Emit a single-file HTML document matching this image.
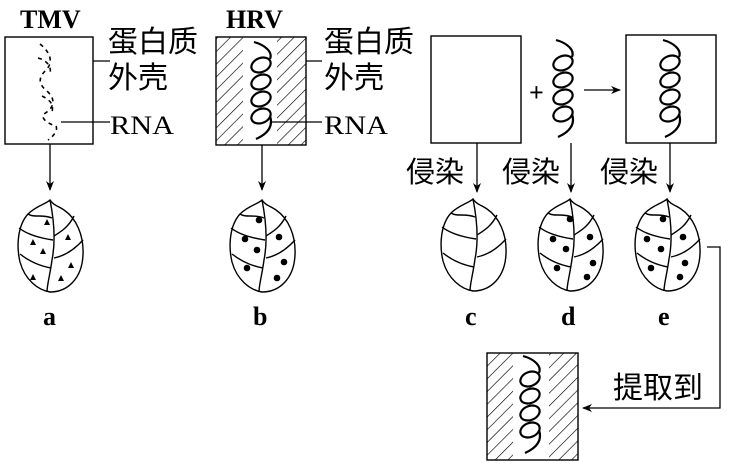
<!DOCTYPE html>
<html><head><meta charset="utf-8"><style>
body{margin:0;background:#fff;}
svg{display:block}
text{font-family:"Liberation Serif","Noto Serif CJK SC",serif;fill:#000}
.cj{font-family:"Liberation Sans","Noto Sans CJK SC",sans-serif;font-size:30px}
</style></head><body>
<svg width="738" height="463" viewBox="0 0 738 463" xmlns="http://www.w3.org/2000/svg">
<defs>
<pattern id="h" width="9" height="9" patternUnits="userSpaceOnUse" patternTransform="rotate(45)">
<line x1="0" y1="0" x2="0" y2="9" stroke="#000" stroke-width="1.3"/></pattern>
<marker id="ar" markerWidth="10" markerHeight="10" refX="9" refY="5" orient="auto" markerUnits="userSpaceOnUse">
<path d="M0,1 L10,5 L0,9 L3,5 Z" fill="#000"/></marker>
<g id="coil" fill="none" stroke="#000" stroke-width="2.2">
<path d="M5,0 C16,3 24,10 21,17"/>
<ellipse cx="12" cy="23" rx="10" ry="7" transform="rotate(-22 12 23)"/>
<ellipse cx="12" cy="40" rx="10" ry="7" transform="rotate(-22 12 40)"/>
<ellipse cx="12" cy="57" rx="10" ry="7" transform="rotate(-22 12 57)"/>
<ellipse cx="12" cy="74" rx="10" ry="7" transform="rotate(-22 12 74)"/>
<path d="M21,74 C25,86 16,93 7,97"/>
</g>
<g id="leaf" fill="none" stroke="#000" stroke-width="1.4">
<path d="M0,0 C-4,4 -14,6 -22,14 C-32,25 -34,45 -30,62 C-25,80 -12,90 0,92 C18,92 32,78 33,55 C34,35 26,18 14,10 C8,6 3,5 0,0 Z"/>
<path d="M0,0 C4,20 6,40 2,60 C0,75 -3,85 -3,92"/>
<path d="M2,18 C-8,14 -16,18 -22,14"/>
<path d="M3,40 C-10,38 -22,35 -31,28"/>
<path d="M1,68 C-10,66 -20,62 -30,54"/>
<path d="M4,36 C10,32 18,28 24,16"/>
<path d="M4,58 C14,56 24,50 33,40"/>
</g>
</defs>

<!-- TMV -->
<text x="20" y="28" font-size="26" font-weight="bold">TMV</text>
<rect x="5" y="37" width="88" height="107" fill="none" stroke="#000" stroke-width="1.4"/>
<g stroke="#000" stroke-width="1.6" fill="none" stroke-dasharray="4 4">
<path d="M40,44 C50,52 54,62 46,70 C38,78 38,84 48,92 C56,100 54,108 44,114 C40,118 48,124 56,126 C58,130 54,136 48,140"/>
<path d="M38,58 C46,60 52,66 50,74 M42,96 C50,100 54,104 52,112"/>
</g>
<path d="M93,61 H110 M61,122 H110" stroke="#000" stroke-width="1.3"/>
<text class="cj" x="108" y="52">蛋白质</text>
<text class="cj" x="108" y="88">外壳</text>
<text x="110" y="134" font-size="26" textLength="64" lengthAdjust="spacingAndGlyphs">RNA</text>
<line x1="50" y1="144" x2="50" y2="190" stroke="#000" stroke-width="1.3" marker-end="url(#ar)"/>
<use href="#leaf" x="50" y="200"/>
<g fill="#000">
<path d="M44,225 l3,-6 l3,6z M30,245 l3,-6 l3,6z M40,254 l3,-6 l3,6z M65,240 l3,-6 l3,6z M68,268 l3,-6 l3,6z M30,280 l3,-6 l3,6z M58,281 l3,-6 l3,6z"/>
</g>
<text x="43" y="325" font-size="26" font-weight="bold">a</text>

<!-- HRV -->
<text x="226" y="28" font-size="26" font-weight="bold">HRV</text>
<rect x="216" y="37" width="27" height="108" fill="url(#h)"/>
<rect x="277" y="37" width="29" height="108" fill="url(#h)"/>
<rect x="216" y="37" width="90" height="108" fill="none" stroke="#000" stroke-width="1.4"/>
<use href="#coil" x="249" y="42"/>
<path d="M306,61 H322 M272,122 H322" stroke="#000" stroke-width="1.3"/>
<text class="cj" x="324" y="52">蛋白质</text>
<text class="cj" x="324" y="88">外壳</text>
<text x="324" y="134" font-size="26" textLength="64" lengthAdjust="spacingAndGlyphs">RNA</text>
<line x1="262" y1="145" x2="262" y2="190" stroke="#000" stroke-width="1.3" marker-end="url(#ar)"/>
<use href="#leaf" x="262" y="200"/>
<g fill="#000"><circle cx="259" cy="220" r="3.3"/><circle cx="245" cy="239" r="3.3"/><circle cx="279" cy="237" r="3.3"/><circle cx="257" cy="250" r="3.3"/><circle cx="247" cy="268" r="3.3"/><circle cx="284" cy="262" r="3.3"/><circle cx="277" cy="278" r="3.3"/></g>
<text x="253" y="325" font-size="26" font-weight="bold">b</text>

<!-- right -->
<rect x="431" y="36" width="90" height="107" fill="none" stroke="#000" stroke-width="1.4"/>
<text x="529" y="101" font-size="26" font-weight="bold">+</text>
<use href="#coil" x="551" y="40"/>
<line x1="584" y1="90" x2="620" y2="90" stroke="#000" stroke-width="1.3" marker-end="url(#ar)"/>
<rect x="626" y="35" width="90" height="108" fill="none" stroke="#000" stroke-width="1.4"/>
<use href="#coil" x="658" y="40"/>
<g stroke="#000" stroke-width="1.3">
<line x1="477" y1="143" x2="477" y2="192" marker-end="url(#ar)"/>
<line x1="571" y1="143" x2="571" y2="192" marker-end="url(#ar)"/>
<line x1="670" y1="143" x2="670" y2="192" marker-end="url(#ar)"/>
</g>
<text class="cj" x="406" y="182" style="font-size:29px">侵染</text>
<text class="cj" x="502" y="182" style="font-size:29px">侵染</text>
<text class="cj" x="600" y="182" style="font-size:29px">侵染</text>
<use href="#leaf" x="473" y="199"/>
<use href="#leaf" x="570" y="199"/>
<use href="#leaf" x="667" y="199"/>
<g fill="#000">
<circle cx="570" cy="219" r="3.3"/><circle cx="553" cy="239" r="3.3"/><circle cx="590" cy="237" r="3.3"/><circle cx="566" cy="249" r="3.3"/><circle cx="557" cy="268" r="3.3"/><circle cx="593" cy="263" r="3.3"/><circle cx="587" cy="277" r="3.3"/>
<circle cx="663" cy="219" r="3.3"/><circle cx="647" cy="239" r="3.3"/><circle cx="683" cy="237" r="3.3"/><circle cx="661" cy="249" r="3.3"/><circle cx="651" cy="268" r="3.3"/><circle cx="685" cy="263" r="3.3"/><circle cx="680" cy="277" r="3.3"/>
</g>
<text x="465" y="325" font-size="26" font-weight="bold">c</text>
<text x="561" y="325" font-size="26" font-weight="bold">d</text>
<text x="658" y="325" font-size="26" font-weight="bold">e</text>
<path d="M707,247 H720 V408 H583" fill="none" stroke="#000" stroke-width="1.3" marker-end="url(#ar)"/>
<text class="cj" x="613" y="398">提取到</text>
<rect x="487" y="353" width="26" height="107" fill="url(#h)"/>
<rect x="549" y="353" width="29" height="107" fill="url(#h)"/>
<rect x="487" y="353" width="91" height="107" fill="none" stroke="#000" stroke-width="1.4"/>
<use href="#coil" x="518" y="356"/>
</svg>
</body></html>
